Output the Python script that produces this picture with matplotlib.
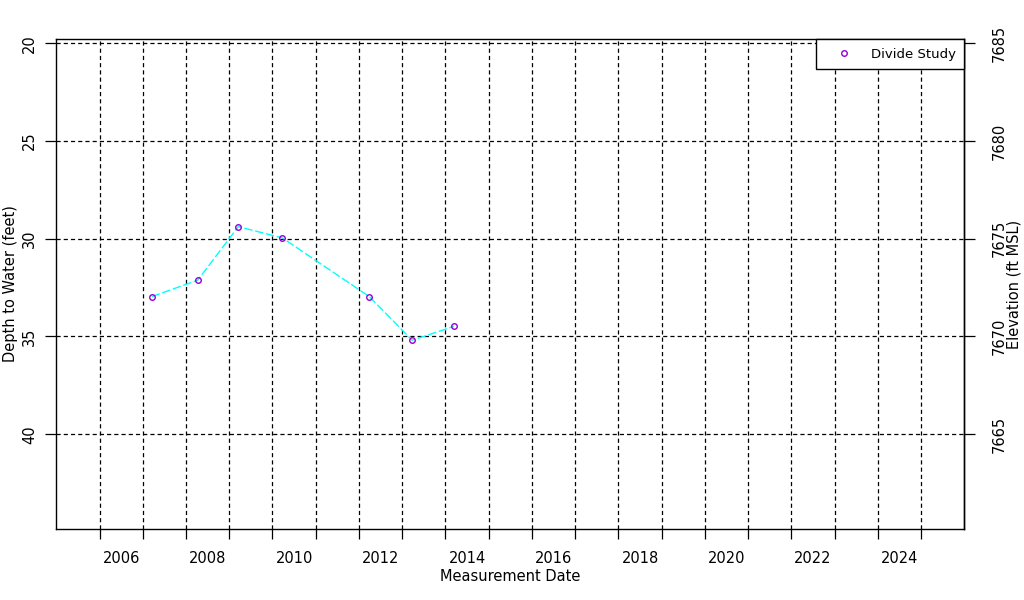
import matplotlib
matplotlib.use("Agg")
import matplotlib.pyplot as plt
from matplotlib.lines import Line2D

# ---- data ----
dates = [2007.21, 2008.27, 2009.21, 2010.23, 2012.24, 2013.23, 2014.20]
depth = [32.96, 32.12, 29.38, 29.96, 32.96, 35.19, 34.48]
series_name = "Divide Study"
year_ticks = list(range(2006, 2026))
year_labels = [str(y) for y in range(2006, 2026, 2)]
depth_ticks = [20, 25, 30, 35, 40]
elev_ticks = [7665, 7670, 7675, 7680, 7685]
datum = 7705.0

plt.rcParams['font.family'] = ['DejaVu Sans']
plt.rcParams['lines.scale_dashes'] = False

fig = plt.figure(figsize=(10.24, 6.0), dpi=100)
ax = fig.add_axes([56.3/1024, 1-528.7/600, (964.3-56.3)/1024, (528.7-39.3)/600])

ax.set_xlim(2005.0, 2026.0)
ax.set_ylim(44.83, 19.8)

# grid
for y in year_ticks:
    ax.axvline(y, color='black', lw=0.9, linestyle=(0, (3, 2.2)), zorder=1)
for d in depth_ticks:
    ax.axhline(d, color='black', lw=0.9, linestyle=(0, (3, 2.2)), zorder=1)

ax.plot(dates, depth, color='#00FFFF', lw=1.0, linestyle=(0, (6, 2)), zorder=2)
ax.plot(dates, depth, linestyle='none', marker='o', markersize=4,
        markerfacecolor='none', markeredgecolor='#9400D3', markeredgewidth=1.0, zorder=3)

# x axis: ticks at years, labels mid-year
ax.set_xticks(year_ticks)
ax.set_xticklabels([])
ax.set_xticks([int(l) + 0.5 for l in year_labels], minor=True)
ax.set_xticklabels(year_labels, minor=True)
ax.tick_params(axis='x', which='major', length=7, width=0.9, direction='out')
ax.tick_params(axis='x', which='minor', length=0, pad=16, labelsize=10.5)
ax.set_xlabel("Measurement Date", fontsize=10.5, labelpad=2)

# left y
ax.set_yticks(depth_ticks)
ax.set_yticklabels([str(d) for d in depth_ticks], rotation=90, va='center')
ax.tick_params(axis='y', which='major', length=8, width=0.9, pad=6, labelsize=10.5)
ax.set_ylabel("Depth to Water (feet)", fontsize=10.5)
ax.yaxis.set_label_coords(-0.0425, 0.5)

# right y
sec = ax.secondary_yaxis('right', functions=(lambda d: datum - d, lambda e: datum - e))
sec.set_yticks(elev_ticks)
sec.set_yticklabels([str(e) for e in elev_ticks], rotation=90, va='center')
sec.tick_params(axis='y', length=8, width=0.9, pad=12, labelsize=10.5)
sec.set_ylabel("Elevation (ft MSL)", fontsize=10.5)
sec.yaxis.set_label_coords(1.046, 0.5, transform=ax.transAxes)
sec.spines['right'].set_linewidth(1.0)

for s in ax.spines.values():
    s.set_linewidth(1.0)
    s.set_color('black')

handle = Line2D([], [], linestyle='none', marker='o', markersize=4,
                markerfacecolor='none', markeredgecolor='#9400D3', markeredgewidth=1.0)
leg = ax.legend([handle], [series_name], loc='upper right', borderaxespad=0,
                fancybox=False, framealpha=1, edgecolor='black', fontsize=9.5,
                handlelength=2.9, handletextpad=0.6, borderpad=0.65)
leg.get_frame().set_linewidth(1.0)
leg.set_zorder(5)

fig.savefig("out.png", dpi=100)
